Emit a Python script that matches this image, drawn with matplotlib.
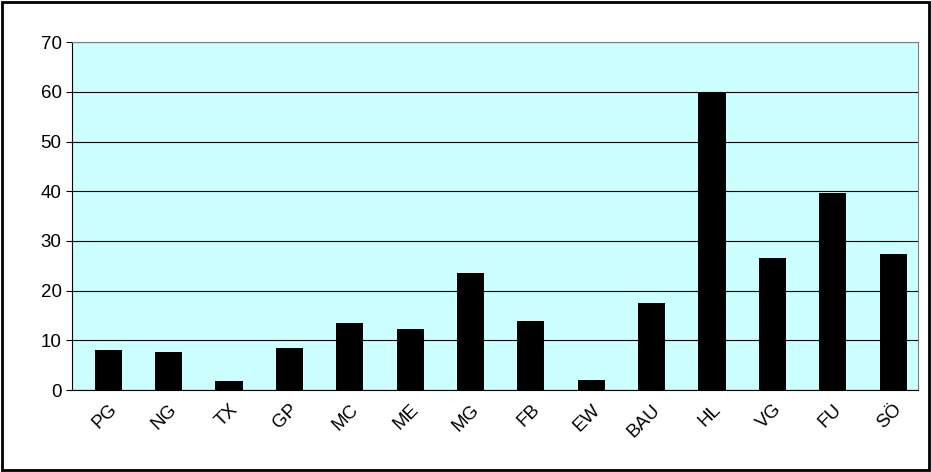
import matplotlib
import matplotlib.pyplot as plt
from matplotlib.patches import Rectangle

matplotlib.use("Agg")
plt.rcParams["font.family"] = ["Liberation Sans", "DejaVu Sans"]

categories = ["PG", "NG", "TX", "GP", "MC", "ME", "MG", "FB", "EW", "BAU", "HL", "VG", "FU", "SÖ"]
values = [8.0, 7.7, 1.8, 8.5, 13.5, 12.3, 23.6, 13.8, 2.1, 17.5, 60.0, 26.6, 39.6, 27.4]

fig = plt.figure(figsize=(9.31, 4.72), dpi=100)
fig.patches.append(Rectangle((0.002, 0.004), 0.996, 0.992, transform=fig.transFigure,
                             fill=False, edgecolor="black", linewidth=2))
ax = fig.add_axes([0.0773, 0.1737, 0.9087, 0.737])
ax.set_facecolor("#CCFFFF")
ax.bar(range(len(categories)), values, width=0.45, color="black", zorder=3)
ax.set_xlim(-0.6, len(categories) - 0.59)
ax.set_ylim(0, 70)
ax.set_yticks(range(0, 71, 10))
ax.yaxis.grid(True, color="black", linewidth=0.8, zorder=1)
ax.set_xticks(range(len(categories)))
ax.set_xticklabels(categories, rotation=45, ha="right", rotation_mode="anchor", fontsize=13.5)
ax.tick_params(axis="y", labelsize=13.5, length=4, direction="out")
ax.tick_params(axis="x", length=0, pad=8)
for s in ax.spines.values():
    s.set_linewidth(0.8)
    s.set_color("#808080")
ax.spines["left"].set_color("black")
ax.spines["bottom"].set_color("black")

fig.savefig("out.png", dpi=100)
